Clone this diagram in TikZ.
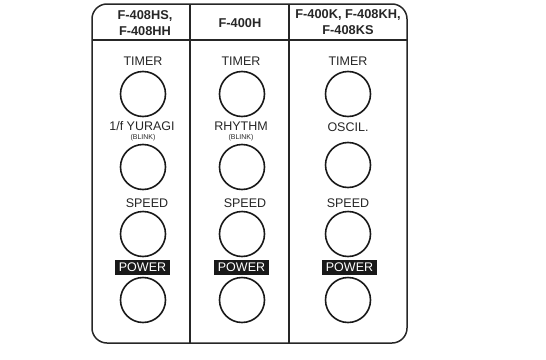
\documentclass[tikz,border=0pt]{standalone}
\usepackage{fontspec}
\setmainfont{Liberation Sans}
\begin{document}
\begin{tikzpicture}[x=1pt,y=-1pt,
  frame/.style={line width=1.5pt,draw=black!85},
  knob/.style={circle,draw=black!90,line width=1.6pt,minimum size=45pt,inner sep=0pt},
  lbl/.style={font=\fontsize{12.5}{13}\selectfont,inner sep=0pt,text=black!85},
  small/.style={font=\fontsize{7}{7}\selectfont,inner sep=0pt,text=black!85},
  head/.style={font=\bfseries\fontsize{12.8}{16}\selectfont,align=center,inner sep=0pt,text=black!85},
  pwr/.style={fill=black!90,text=white,font=\fontsize{12.5}{13}\selectfont,minimum width=55pt,minimum height=15pt,inner sep=0pt}]
\useasboundingbox (0,0) rectangle (546,359);
% frame
\draw[frame,rounded corners=15pt] (92,4) rectangle (407,343);
\draw[frame] (92,40) -- (407,40);
\draw[frame] (190,4) -- (190,343);
\draw[frame] (289,4) -- (289,343);
% headers
\node[head] (h1) at (145,23) {F-408HS,\\F-408HH};
\node[head] (h2) at (240,23) {F-400H};
\node[head] (h3) at (348,22.5) {F-400K, F-408KH,\\F-408KS};
% column 1
\node[lbl] (t1) at (143,61) {TIMER};
\node[knob] (k11) at (143,94) {};
\node[lbl] (y1) at (142,126) {1/f YURAGI};
\node[small] (b1) at (143,138) {(BLINK)};
\node[knob] (k12) at (143,167) {};
\node[lbl] (s1) at (147,203) {SPEED};
\node[knob] (k13) at (143,234) {};
\node[pwr] (p1) at (142.5,267) {POWER};
\node[knob] (k14) at (143,300) {};
% column 2
\node[lbl] (t2) at (241,61) {TIMER};
\node[lbl] (y2) at (241,126) {RHYTHM};
\node[small] (b2) at (241,138) {(BLINK)};
\node[knob] (k21) at (242,94) {};
\node[knob] (k22) at (242,167) {};
\node[lbl] (s2) at (245,203) {SPEED};
\node[knob] (k23) at (242,234) {};
\node[pwr] (p2) at (241.5,267) {POWER};
\node[knob] (k24) at (242,300) {};
% column 3
\node[lbl] (t3) at (348,61) {TIMER};
\node[knob] (k31) at (348,94) {};
\node[lbl] (o3) at (348,127) {OSCIL.};
\node[knob] (k32) at (348,165) {};
\node[lbl] (s3) at (348,203) {SPEED};
\node[knob] (k33) at (348,234) {};
\node[pwr] (p3) at (349.5,267) {POWER};
\node[knob] (k34) at (348,300) {};
\end{tikzpicture}
\end{document}
